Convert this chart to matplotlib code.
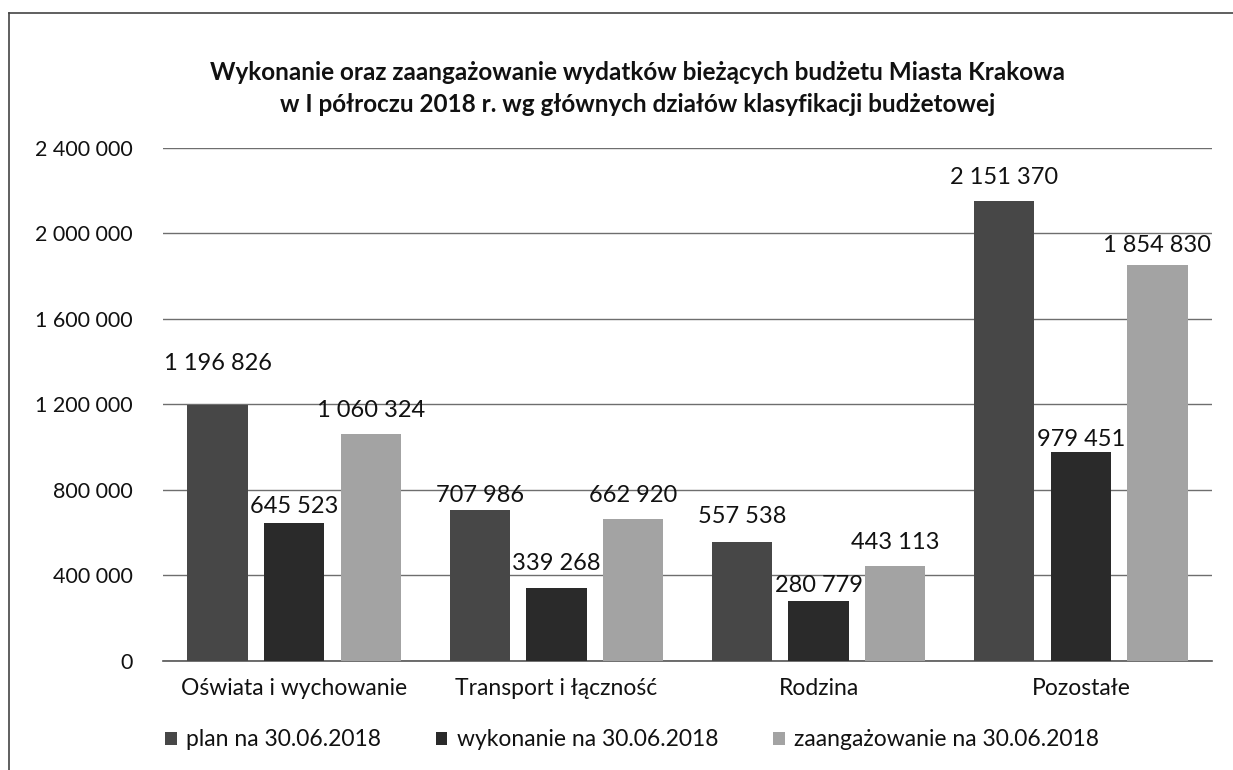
import matplotlib
matplotlib.use("Agg")
import matplotlib.pyplot as plt
import numpy as np
from matplotlib.ticker import FuncFormatter

categories = ["Oświata i wychowanie", "Transport i łączność", "Rodzina", "Pozostałe"]
series_names = ["plan na 30.06.2018", "wykonanie na 30.06.2018", "zaangażowanie na 30.06.2018"]
plan = [1196826, 707986, 557538, 2151370]
wykonanie = [645523, 339268, 280779, 979451]
zaangazowanie = [1060324, 662920, 443113, 1854830]
yticks = [0, 400000, 800000, 1200000, 1600000, 2000000, 2400000]
title = ("Wykonanie oraz zaangażowanie wydatków bieżących budżetu Miasta Krakowa\n"
         "w I półroczu 2018 r. wg głównych działów klasyfikacji budżetowej")

colors = ["#474747", "#2a2a2a", "#a3a3a3"]
# label offsets above bar tops (points), per series per category
label_offsets = [[30, 10, 18, 17], [12, 18, 11, 9], [17, 17, 17, 14]]

plt.rcParams['font.family'] = ['Lato', 'DejaVu Sans']

fig = plt.figure(figsize=(12.33, 7.7), dpi=100)
ax = fig.add_axes([0.1322, 0.1416, 0.983 - 0.1322, 0.8078 - 0.1416])

def fmt(v):
    return f"{int(round(v)):,}".replace(",", " ")

x = np.arange(len(categories))
width = 0.23
step = 0.292
all_series = [plan, wykonanie, zaangazowanie]
for i, (vals, name, col) in enumerate(zip(all_series, series_names, colors)):
    pos = x + (i - 1) * step
    bars = ax.bar(pos, vals, width=width, color=col, label=name, zorder=3)
    for j, (b, v) in enumerate(zip(bars, vals)):
        ax.annotate(fmt(v), xy=(b.get_x() + b.get_width() / 2, v),
                    xytext=(0, label_offsets[i][j]), textcoords="offset points",
                    ha="center", va="center", fontsize=17, color="#111111", zorder=4)

ax.set_xlim(-0.5, len(categories) - 0.5)
ax.set_ylim(0, 2400000)
ax.set_yticks(yticks)
ax.yaxis.set_major_formatter(FuncFormatter(lambda v, p: fmt(v)))
ax.set_xticks(x)
ax.set_xticklabels(categories)
ax.tick_params(axis='y', length=0, pad=22, labelsize=15.5, labelcolor="#111111")
ax.tick_params(axis='x', length=0, pad=12, labelsize=16.5, labelcolor="#111111")
ax.grid(axis='y', color="#6e6e6e", linewidth=1.0, zorder=0)
for s in ["left", "right", "top"]:
    ax.spines[s].set_visible(False)
ax.spines["bottom"].set_color("#555555")
ax.spines["bottom"].set_linewidth(1.2)

fig.text(0.517, 0.885, title, fontsize=17.5, fontweight="bold", ha="center", va="center",
         linespacing=1.45, color="#111111")

leg = fig.legend(loc="center", bbox_to_anchor=(0.5126, 0.039), ncol=3, frameon=False,
                 fontsize=16.5, handlelength=0.5, handleheight=0.5, handletextpad=0.4,
                 columnspacing=2.4)
for t in leg.get_texts():
    t.set_color("#111111")

# chart frame border (left and top)
fig.add_artist(plt.Line2D([9 / 1233, 9 / 1233], [0, 1 - 13 / 770], transform=fig.transFigure,
                          color="#444444", linewidth=1.2))
fig.add_artist(plt.Line2D([9 / 1233, 1], [1 - 13 / 770, 1 - 13 / 770], transform=fig.transFigure,
                          color="#444444", linewidth=1.2))

fig.savefig("out.png", dpi=100)
